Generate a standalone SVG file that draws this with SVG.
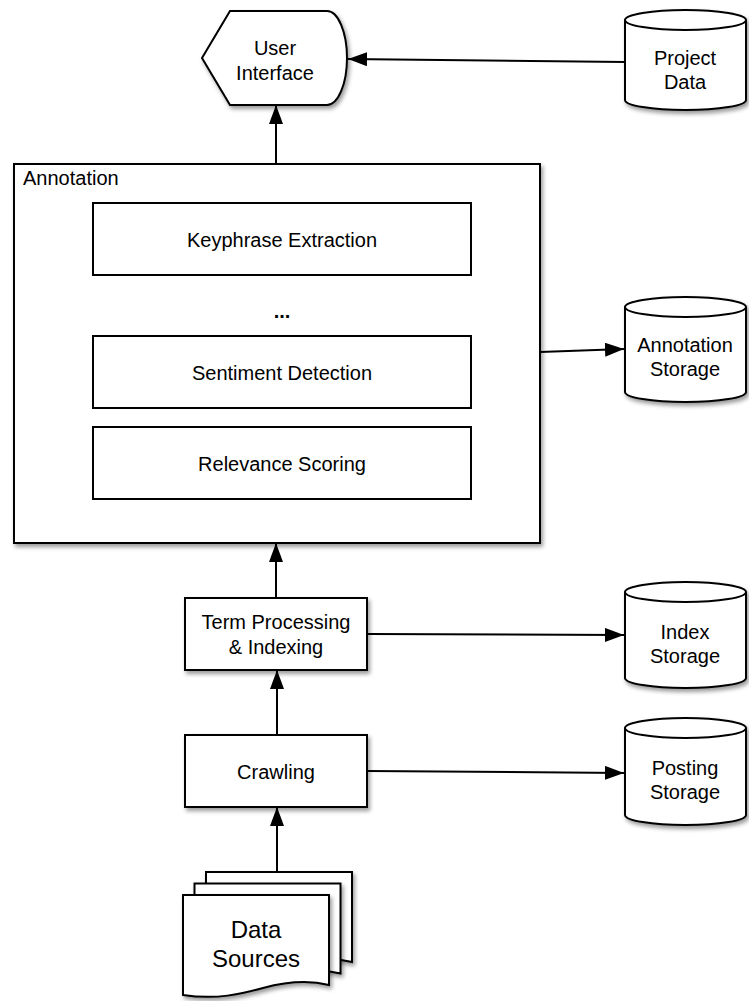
<svg xmlns="http://www.w3.org/2000/svg" width="749" height="1001" viewBox="0 0 749 1001">
  <style>
    .shape { fill: #ffffff; stroke: #000000; stroke-width: 2; }
    .shadowed { filter: url(#shadow); }
    .inner { fill: #ffffff; stroke: #000000; stroke-width: 2; }
    .label { font-family: "Liberation Sans", Arial, Helvetica, sans-serif; font-size: 20px; fill: #000000; text-anchor: middle; }
    .title { font-family: "Liberation Sans", Arial, Helvetica, sans-serif; font-size: 20px; fill: #000000; }
    .big { font-size: 24px; }
    .edge { fill: none; stroke: #000000; stroke-width: 2; marker-end: url(#arrow); }
  </style>
  <defs>
    <filter id="shadow" x="-10%" y="-10%" width="130%" height="130%">
      <feDropShadow dx="2" dy="3" stdDeviation="2" flood-color="#000000" flood-opacity="0.4"/>
    </filter>
    <marker id="arrow" markerUnits="userSpaceOnUse" markerWidth="19" markerHeight="14" refX="19" refY="7" orient="auto">
      <path d="M0,0 L19,7 L0,14 Z" fill="#000000"/>
    </marker>
    <!-- one sheet of the stacked document symbol -->
    <path id="sheet" d="M0,0 H146 V90 C126,85 106,86 80,93 C58,99 34,105 0,100 Z"/>
  </defs>

  <!-- connectors -->
  <g id="connectors">
    <line class="edge" x1="625" y1="62" x2="348" y2="59"/>
    <line class="edge" x1="276" y1="164" x2="276" y2="105"/>
    <line class="edge" x1="540" y1="352" x2="624" y2="349"/>
    <line class="edge" x1="276" y1="598" x2="276" y2="543"/>
    <line class="edge" x1="367" y1="634" x2="624" y2="635"/>
    <line class="edge" x1="277" y1="735" x2="277" y2="670"/>
    <line class="edge" x1="367" y1="771" x2="624" y2="773"/>
    <line class="edge" x1="277" y1="872" x2="277" y2="807"/>
  </g>

  <!-- display node -->
  <g id="user-interface">
    <path class="shape shadowed" d="M230,11 L327,11 A20,47 0 0 1 327,105 L230,105 L202,58 Z"/>
    <text class="label" x="275" y="55">User</text>
    <text class="label" x="275" y="80">Interface</text>
  </g>

  <!-- storage cylinders -->
  <g id="project-data">
    <path class="shape shadowed" d="M625,20 A60.5,10 0 0 1 746,20 V100 A60.5,10 0 0 1 625,100 Z"/>
    <path class="shape" d="M625,20 A60.5,10 0 0 0 746,20" fill="none"/>
    <text class="label" x="685" y="65">Project</text>
    <text class="label" x="685" y="89">Data</text>
  </g>

  <g id="annotation-storage">
    <path class="shape shadowed" d="M625,307 A60.5,10 0 0 1 746,307 V392 A60.5,10 0 0 1 625,392 Z"/>
    <path class="shape" d="M625,307 A60.5,10 0 0 0 746,307" fill="none"/>
    <text class="label" x="685" y="352">Annotation</text>
    <text class="label" x="685" y="376">Storage</text>
  </g>

  <g id="index-storage">
    <path class="shape shadowed" d="M625,592 A60.5,10 0 0 1 746,592 V678 A60.5,10 0 0 1 625,678 Z"/>
    <path class="shape" d="M625,592 A60.5,10 0 0 0 746,592" fill="none"/>
    <text class="label" x="685" y="639">Index</text>
    <text class="label" x="685" y="663">Storage</text>
  </g>

  <g id="posting-storage">
    <path class="shape shadowed" d="M625,728 A60.5,10 0 0 1 746,728 V815 A60.5,10 0 0 1 625,815 Z"/>
    <path class="shape" d="M625,728 A60.5,10 0 0 0 746,728" fill="none"/>
    <text class="label" x="685" y="775">Posting</text>
    <text class="label" x="685" y="799">Storage</text>
  </g>

  <!-- annotation container with its stages -->
  <g id="annotation">
    <rect class="shape shadowed" x="14" y="164" width="526" height="379"/>
    <text class="title" x="23" y="185">Annotation</text>
  </g>
  <g id="keyphrase-extraction">
    <rect class="inner" x="93" y="203" width="378" height="72"/>
    <text class="label" x="282" y="247">Keyphrase Extraction</text>
  </g>
  <g id="ellipsis">
    <text class="label" x="282" y="318" font-weight="bold">...</text>
  </g>
  <g id="sentiment-detection">
    <rect class="inner" x="93" y="336" width="378" height="72"/>
    <text class="label" x="282" y="380">Sentiment Detection</text>
  </g>
  <g id="relevance-scoring">
    <rect class="inner" x="93" y="427" width="378" height="72"/>
    <text class="label" x="282" y="471">Relevance Scoring</text>
  </g>

  <!-- processing steps -->
  <g id="term-processing">
    <rect class="shape shadowed" x="185" y="598" width="182" height="72"/>
    <text class="label" x="276" y="629">Term Processing</text>
    <text class="label" x="276" y="654">&amp; Indexing</text>
  </g>

  <g id="crawling">
    <rect class="shape shadowed" x="185" y="735" width="182" height="72"/>
    <text class="label" x="276" y="779">Crawling</text>
  </g>

  <!-- stacked documents -->
  <g id="data-sources">
    <use href="#sheet" class="shape shadowed" transform="translate(206,872)"/>
    <use href="#sheet" class="shape shadowed" transform="translate(194.5,883.5)"/>
    <use href="#sheet" class="shape shadowed" transform="translate(183,895)"/>
    <text class="label big" x="256" y="938">Data</text>
    <text class="label big" x="256" y="967">Sources</text>
  </g>
</svg>
